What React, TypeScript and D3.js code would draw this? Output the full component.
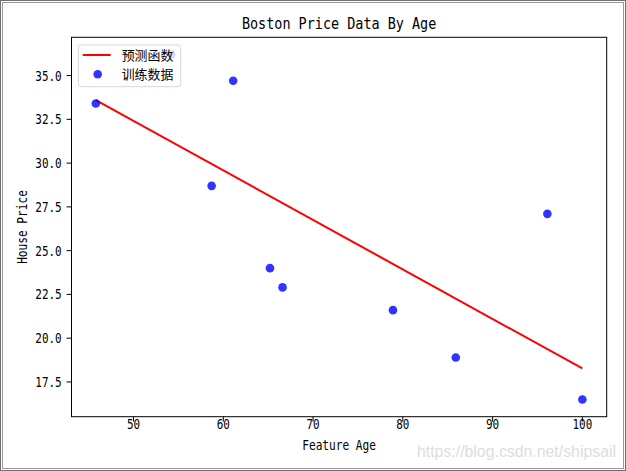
import React from "react";
import * as d3 from "d3";

const ages = [65.2, 78.9, 61.1, 45.8, 54.2, 58.7, 66.6, 96.1, 100.0, 85.9];
const prices = [24.0, 21.6, 34.7, 33.4, 36.2, 28.7, 22.9, 27.1, 16.5, 18.9];
const lineAges = [45.8, 100.0];
const linePrices = [33.6, 18.27];
const xTicks = [50, 60, 70, 80, 90, 100];
const yTicks = [17.5, 20.0, 22.5, 25.0, 27.5, 30.0, 32.5, 35.0];
const legendLabels = ["预测函数", "训练数据"];
const title = "Boston Price Data By Age";
const xLabel = "Feature Age";
const yLabel = "House Price";
const watermark = "https://blog.csdn.net/shipsail";

const W = 626, H = 471;
const L = 71.5, R = 606.7, T = 37.3, B = 416.7;
const MONO = "'DejaVu Sans Mono', 'Liberation Mono', monospace";
const CJK = "'Noto Sans CJK SC', sans-serif";
const CW = 6.6;

export default function App() {
  const xs = d3.scaleLinear().domain([43.09, 102.71]).range([L, R]);
  const ys = d3.scaleLinear().domain([15.515, 37.185]).range([B, T]);
  const line = d3.line<number>().x((d) => xs(lineAges[d])).y((d) => ys(linePrices[d]));
  return (
    <svg width={W} height={H} style={{ position: "absolute", left: 0, top: 0 }}>
      <rect x={0} y={0} width={W} height={H} fill="#fff" />
      <rect x={0.5} y={0.5} width={W - 1} height={H - 1} fill="none" stroke="#707070" />
      <rect x={2.5} y={2.5} width={W - 5} height={H - 5} fill="none" stroke="#9a9a9a" />
      <text x={(L + R) / 2} y={29} textAnchor="middle" fontFamily={MONO} fontSize={16}
        textLength={title.length * 8.1} lengthAdjust="spacingAndGlyphs" fill="#000">{title}</text>
      <path d={line(d3.range(lineAges.length)) || ""} fill="none" stroke="red" strokeWidth={2} />
      {ages.map((a, i) => (
        <circle key={i} cx={xs(a)} cy={ys(prices[i])} r={4.3} fill="blue" fillOpacity={0.8} />
      ))}
      <rect x={L} y={T} width={R - L} height={B - T} fill="none" stroke="#000" strokeWidth={1} />
      {xTicks.map((t) => (
        <g key={t}>
          <line x1={xs(t)} x2={xs(t)} y1={B} y2={B + 4.9} stroke="#000" />
          <text x={xs(t)} y={429} textAnchor="middle" fontFamily={MONO} fontSize={14.5}
            textLength={String(t).length * CW} lengthAdjust="spacingAndGlyphs">{t}</text>
        </g>
      ))}
      {yTicks.map((t) => (
        <g key={t}>
          <line x1={L - 4.9} x2={L} y1={ys(t)} y2={ys(t)} stroke="#000" />
          <text x={61.7} y={ys(t) + 5} textAnchor="end" fontFamily={MONO} fontSize={14.5}
            textLength={t.toFixed(1).length * CW} lengthAdjust="spacingAndGlyphs">{t.toFixed(1)}</text>
        </g>
      ))}
      <text x={(L + R) / 2} y={450} textAnchor="middle" fontFamily={MONO} fontSize={14}
        textLength={xLabel.length * 6.7} lengthAdjust="spacingAndGlyphs">{xLabel}</text>
      <text transform={`translate(27,${(T + B) / 2}) rotate(-90)`} textAnchor="middle" fontFamily={MONO}
        fontSize={14} textLength={yLabel.length * 6.7} lengthAdjust="spacingAndGlyphs">{yLabel}</text>
      <g>
        <rect x={78.3} y={45} width={102.4} height={41.7} rx={2.5} fill="#fff" fillOpacity={0.8}
          stroke="#cccccc" strokeOpacity={0.8} />
        <line x1={82.7} x2={110.7} y1={55} y2={55} stroke="red" strokeWidth={2} />
        <circle cx={97.7} cy={74.3} r={4.3} fill="blue" fillOpacity={0.8} />
        {legendLabels.map((lab, i) => (
          <text key={lab} x={121.7} y={55 + i * 19.3 + 4.8} fontFamily={CJK} fontSize={13}
            textLength={51.6} lengthAdjust="spacingAndGlyphs">{lab}</text>
        ))}
      </g>
      <text x={616} y={457} textAnchor="end" fontFamily="'Liberation Sans', sans-serif" fontSize={16}
        fill="#dddddd" textLength={199} lengthAdjust="spacingAndGlyphs">{watermark}</text>
    </svg>
  );
}
